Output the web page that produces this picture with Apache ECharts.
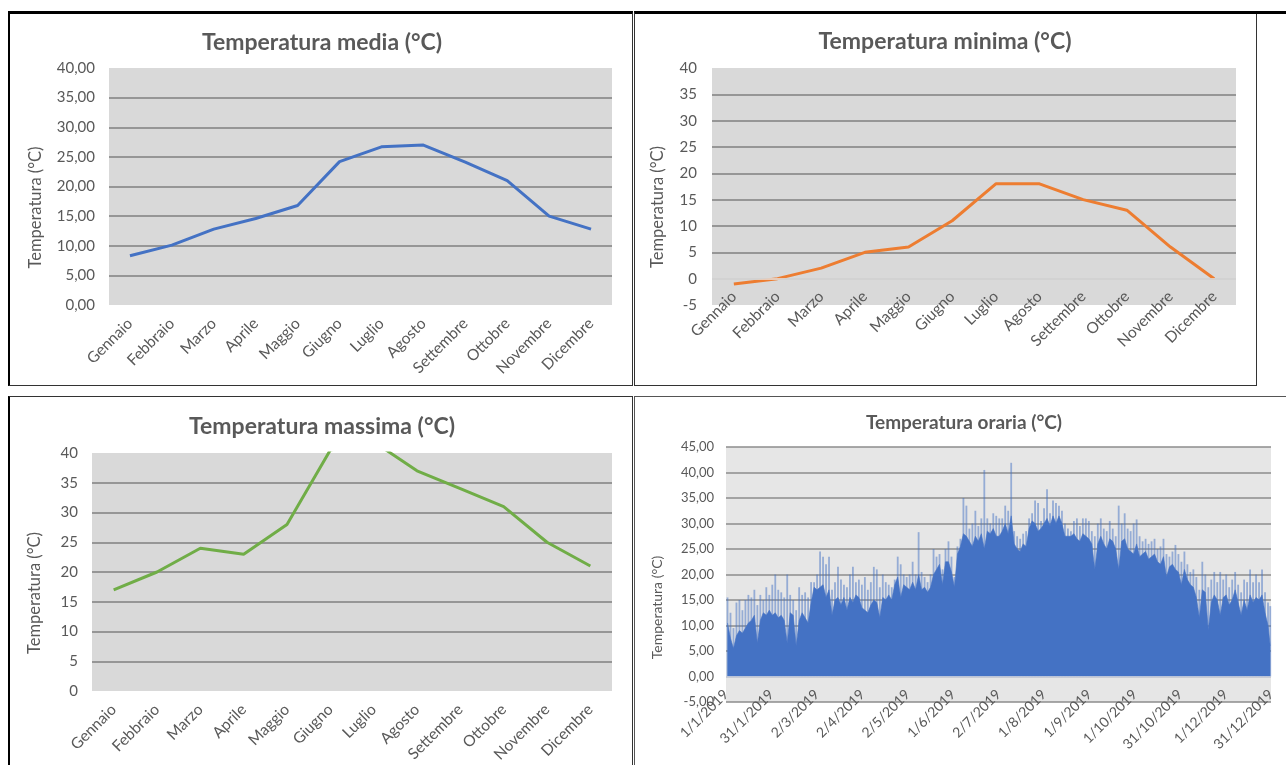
<!DOCTYPE html>
<html><head><meta charset="utf-8">
<script src="https://cdn.jsdelivr.net/npm/echarts@6/dist/echarts.min.js"></script>
<style>
html,body{margin:0;padding:0;background:#fff;}
#wrap{position:relative;width:1286px;height:765px;overflow:hidden;}
#chart{position:absolute;left:0;top:0;width:1286px;height:765px;}
.frame{position:absolute;box-sizing:border-box;}
</style></head><body>
<div id="wrap">
 <div class="frame" style="left:8px;top:11px;width:625px;height:375px;border-left:2px solid #000;border-top:3px solid #000;border-right:1px solid #333;border-bottom:1px solid #333;"></div>
 <div class="frame" style="left:634px;top:11px;width:623px;height:375px;border-top:3px solid #000;border-left:1px solid #333;border-right:1px solid #333;border-bottom:1px solid #333;"></div>
 <div class="frame" style="left:1256px;top:11px;width:30px;height:3px;background:#000;"></div>
 <div class="frame" style="left:8px;top:396px;width:625px;height:380px;border-left:2px solid #000;border-top:1px solid #333;border-right:1px solid #333;"></div>
 <div class="frame" style="left:634px;top:396px;width:660px;height:380px;border-left:1px solid #555;border-top:1px solid #555;"></div>
 <div id="chart"></div>
</div>
<script>
// ---- data ----
const months = ['Gennaio','Febbraio','Marzo','Aprile','Maggio','Giugno','Luglio','Agosto','Settembre','Ottobre','Novembre','Dicembre'];
const tempMedia = [8.3,10.1,12.8,14.6,16.8,24.2,26.7,27.0,24.1,21.0,15.0,12.8];
const tempMinima = [-1,0,2,5,6,11,18,18,15,13,6,0];
const tempMassima = [17,20,24,23,28,40.5,41.9,37,34,31,25,21];
const dateTickLabels = ['1/1/2019','31/1/2019','2/3/2019','2/4/2019','2/5/2019','1/6/2019','2/7/2019','1/8/2019','1/9/2019','1/10/2019','31/10/2019','1/12/2019','31/12/2019'];
// hourly temperature, read as 2-day periods: highest hour and lowest dense level
const hourlyMax = [
 15.5,12.5,9.5,14.5,15,13,15,16,15.5,17,
 14,16,15,17.5,16,18,20,17,16.5,15.5,
 20,16,15,13,17.5,16,16.5,15.5,18.5,18.5,
 20,24.5,23.5,22,23.5,17,18.5,21.5,19,18,
 17.5,20,21.5,18.5,19,18,19.5,17,18.5,21.5,
 21,17.5,20,18.5,18,17.5,19,23.5,22,20,
 19.5,20,22.5,20,28.3,20.5,19.5,18.5,20,25,
 23.5,24,21,25,26.5,23.5,19.5,25.5,27,35,
 33.5,29,30,32.5,29.5,31,40.5,31,30,32,
 31.5,31,31,33.5,32.5,41.9,28.5,27.5,27,28,
 28.5,31,32,34.5,34,30.5,33,36.7,32,34.5,
 34,33.5,32.5,30,29,28.5,30.5,31,29.5,31,
 31,30.5,28.5,27.5,30,31,29,28.5,30.5,29,
 27.5,33.5,30,32,29,28.5,30,30.8,27.5,26.5,
 27,26,26.5,27,25,25.5,27,24,23.5,24.5,
 25.8,24,22.5,24.5,22,20.5,21,19.5,17,22.5,
 20,17.5,19,20.5,18.5,20.5,19,20,17.5,19,
 20.5,18,16.5,19,18.5,21,18.5,20,18.5,21,
 16.5,14.5,13.8];
const hourlyMin = [
 10.5,7.5,5.5,8,9,8.5,9.5,10.5,11,12,
 6.5,11,12.5,12,13,12,12.5,11.5,12,11,
 6.5,12.5,12,6,11,12.5,11.5,10.5,14.5,17.5,
 17,17.5,18,15.5,17,12,15,15.5,14,15.5,
 13,15.5,14.5,16,15.5,13.5,13,12.5,14,15,
 14.5,11.5,15.5,15,16,15,18,19.5,15.5,18,
 17.5,17,18.5,17,20,17,17.5,16.5,17.5,20,
 21,22,18,22.5,22.5,20.5,17.5,24,25.5,28,
 27.5,26.5,25.5,27.5,26.5,28,25,28.5,28,29,
 27.5,27.5,28.5,30,28,31.5,26,25,24.5,26,
 25.5,29,30.5,30,28.5,29,30,31,29.5,31.5,
 30,31.5,30,27.5,27.5,27.5,28,27,26.5,28,
 27.5,27,26,21,26,27.5,26,25,27,26.5,
 25,21,26.5,27,25,24.5,24,26,23.5,24,
 24.5,23,23.5,24,22.5,22,23.5,19.5,21.5,22,
 21,20.5,18,21,19,18,17.5,15.5,11.5,17,
 16.5,9,14.5,16,15,12,15.5,16,14,15,
 17,14.5,12,15,13,16,14.5,15.5,15,16,
 12.5,10,6];

// ---- helpers ----
const FONT = 'Lato, "Open Sans", sans-serif';
const TXT = '#595959';
const GRIDLINE = '#7f7f7f';
const comma2 = v => v.toFixed(2).replace('.', ',');
const HOURS_PER_PERIOD = 48;
const periodHour = i => Math.min(i * HOURS_PER_PERIOD + 24, 8748);
const maxPairs = hourlyMax.map((v, i) => [periodHour(i), v]);
const minPairs = hourlyMin.map((v, i) => [periodHour(i), v]);

function grid(left, top, width, height, bg) {
  return {left, top, width, height, show: true, backgroundColor: bg, borderWidth: 0, containLabel: false, outerBoundsMode: 'none'};
}
function catX(gi, margin) {
  return {type: 'category', gridIndex: gi, data: months, boundaryGap: true,
    axisLine: {show: false}, axisTick: {show: false},
    axisLabel: {interval: 0, rotate: 45, margin, color: TXT, fontSize: 15.5, fontFamily: FONT}};
}
function valY(gi, min, max, fmt, opt) {
  return {type: 'value', gridIndex: gi, min, max, interval: 5,
    name: 'Temperatura (°C)', nameLocation: 'middle', nameRotate: 90, nameGap: opt.nameGap,
    nameTextStyle: {color: TXT, fontSize: opt.nameSize, fontFamily: FONT, padding: [0, opt.nameShift, 0, 0]},
    axisLine: {show: false}, axisTick: {show: false},
    axisLabel: {formatter: fmt, margin: opt.labelMargin, color: TXT, fontSize: opt.labelSize, fontFamily: FONT},
    splitLine: {show: true, showMinLine: opt.minLine, showMaxLine: opt.maxLine,
      lineStyle: {color: opt.lineColor || GRIDLINE, width: 1.5}}};
}
function title(text, x, y, size) {
  return {text, left: x, top: y, textAlign: 'center',
    textStyle: {color: TXT, fontSize: size, fontWeight: 'bold', fontFamily: FONT}};
}
const zeroLine = color => ({silent: true, symbol: 'none', label: {show: false},
  lineStyle: {color, width: 1.5, type: 'solid'}, data: [{yAxis: 0}]});
function lineSeries(xi, data, color, extra) {
  return Object.assign({type: 'line', xAxisIndex: xi, yAxisIndex: xi, data, symbol: 'none', clip: true,
    lineStyle: {color, width: 3}, itemStyle: {color}}, extra || {});
}

const option = {
  animation: false,
  backgroundColor: 'transparent',
  title: [
    title('Temperatura media (°C)', 317, 26, 23),
    title('Temperatura minima (°C)', 940, 25, 23),
    title('Temperatura massima (°C)', 317, 410, 23),
    title('Temperatura oraria (°C)', 959, 408, 19)
  ],
  grid: [
    grid(109, 68, 503, 237, '#d9d9d9'),
    grid(712, 68, 524, 237, '#d9d9d9'),
    grid(92, 453, 520, 238, '#d9d9d9'),
    grid(726, 447, 545, 255, '#e6e6e6')
  ],
  xAxis: [
    catX(0, 16),
    catX(1, -11),
    catX(2, 16),
    {type: 'value', gridIndex: 3, min: 0, max: 8760, interval: 730,
      axisLine: {show: false},
      axisTick: {show: false},
      splitLine: {show: false},
      axisLabel: {rotate: 45, margin: -10, color: TXT, fontSize: 14, fontFamily: FONT,
        formatter: v => dateTickLabels[Math.round(v / 730)]}},
    {type: 'value', gridIndex: 3, min: 0, max: 8760, show: false, splitLine: {show: false}}
  ],
  yAxis: [
    valY(0, 0, 40, comma2, {nameGap: 65, nameSize: 16.5, nameShift: 42, labelMargin: 14, labelSize: 15, minLine: false, maxLine: false}),
    valY(1, -5, 40, v => String(v), {nameGap: 46, nameSize: 16.5, nameShift: 41, labelMargin: 15, labelSize: 15, minLine: false, maxLine: false}),
    valY(2, 0, 40, v => String(v), {nameGap: 49, nameSize: 16.5, nameShift: 42, labelMargin: 14, labelSize: 15, minLine: false, maxLine: false}),
    valY(3, -5, 45, comma2, {nameGap: 62, nameSize: 14, nameShift: 66, labelMargin: 12, labelSize: 13, minLine: true, maxLine: true, lineColor: '#8c8c8c'})
  ],
  series: [
    lineSeries(0, tempMedia, '#4472c4'),
    lineSeries(1, tempMinima, '#ed7d31', {markLine: zeroLine('#e6e6e6')}),
    lineSeries(2, tempMassima, '#70ad47'),
    {type: 'bar', xAxisIndex: 4, yAxisIndex: 3, data: maxPairs, barWidth: 1.8, clip: true,
      itemStyle: {color: 'rgba(68,114,196,0.5)'},
      markLine: zeroLine('#d4d9e4')},
    {type: 'line', xAxisIndex: 3, yAxisIndex: 3, data: minPairs, symbol: 'none', clip: true,
      lineStyle: {width: 0.6, color: '#4472c4'}, itemStyle: {color: '#4472c4'},
      areaStyle: {color: '#4472c4', opacity: 1}}
  ]
};
const chart = echarts.init(document.getElementById('chart'), null, {renderer: 'canvas'});
chart.setOption(option);
</script>
</body></html>
